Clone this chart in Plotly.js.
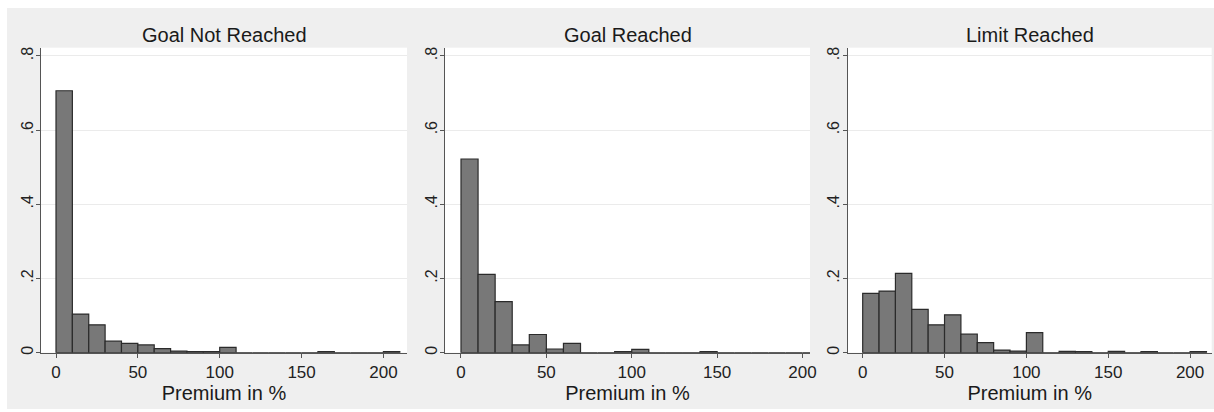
<!DOCTYPE html>
<html>
<head>
<meta charset="utf-8">
<script src="https://cdn.plot.ly/plotly-3.0.1.min.js"></script>
<style>
html, body { margin: 0; padding: 0; background: #ffffff; width: 1214px; height: 412px; overflow: hidden; }
#chart { position: absolute; left: 7px; top: 8px; width: 1207px; height: 401px; }
</style>
</head>
<body>
<div id="chart"></div>
<script>
// Histogram bins (left edges, width 10, in % premium)
const binStart = [0,10,20,30,40,50,60,70,80,90,100,110,120,130,140,150,160,170,180,190,200];
const binWidth = 10;

// Panel titles
const panelTitles = ["Goal Not Reached", "Goal Reached", "Limit Reached"];

// Density (fraction) per bin
const goalNotReached = [0.706,0.104,0.075,0.031,0.025,0.021,0.011,0.0045,0.003,0.003,0.0145,0,0,0,0,0,0.003,0,0,0,0.003];
const goalReached    = [0.522,0.211,0.1375,0.021,0.049,0.010,0.025,0,0,0.003,0.009,0,0,0,0.003,0,0,0,0,0,0];
const limitReached   = [0.160,0.166,0.214,0.117,0.075,0.102,0.050,0.027,0.007,0.0045,0.054,0,0.0036,0.003,0,0.0036,0,0.003,0,0,0.003];

// Axis ticks
const xTickVals = [0, 50, 100, 150, 200];
const xTickText = ["0", "50", "100", "150", "200"];
const yTickVals = [0, 0.2, 0.4, 0.6, 0.8];
const yTickText = ["0", ".2", ".4", ".6", ".8"];
const xAxisLabel = "Premium in %";

const series = [goalNotReached, goalReached, limitReached];

const FONT = "'Liberation Sans', Arial, sans-serif";

const traces = series.map((vals, i) => ({
  type: "bar",
  x: binStart,
  y: vals,
  width: binWidth,
  offset: 0,
  xaxis: i === 0 ? "x" : "x" + (i + 1),
  yaxis: i === 0 ? "y" : "y" + (i + 1),
  marker: { color: "#787878", line: { color: "#2b2b2b", width: 1.2 } },
  hoverinfo: "x+y"
}));

const xDomains = [[0.02817, 0.33140], [0.36288, 0.66529], [0.69652, 0.99809]];
const xRanges = [[-9.16, 214.4], [-9.37, 204.4], [-9.16, 213.2]];
const yDomain = [0.1404, 0.9010];

function xAxis(i) {
  return {
    domain: xDomains[i],
    range: xRanges[i],
    anchor: i === 0 ? "y" : "y" + (i + 1),
    tickvals: xTickVals,
    ticktext: xTickText,
    ticks: "outside",
    ticklen: 4,
    tickwidth: 1,
    tickcolor: "#555555",
    showline: true,
    linecolor: "#555555",
    linewidth: 1,
    showgrid: false,
    zeroline: false,
    tickfont: { family: FONT, size: 17, color: "#222222" },
    title: { text: xAxisLabel, font: { family: FONT, size: 20, color: "#1a1a1a" }, standoff: 0 },
    fixedrange: true
  };
}
function yAxis(i) {
  return {
    domain: yDomain,
    range: [0, 0.822],
    anchor: i === 0 ? "x" : "x" + (i + 1),
    tickvals: yTickVals,
    ticktext: yTickText,
    tickangle: -90,
    ticks: "outside",
    ticklen: 4,
    tickwidth: 1,
    tickcolor: "#555555",
    ticklabelstandoff: -3,
    showline: true,
    linecolor: "#555555",
    linewidth: 1,
    showgrid: true,
    gridcolor: "#ebebeb",
    gridwidth: 1,
    zeroline: false,
    tickfont: { family: FONT, size: 16, color: "#222222" },
    fixedrange: true
  };
}

const layout = {
  width: 1207,
  height: 401,
  margin: { l: 0, r: 0, t: 0, b: 0 },
  paper_bgcolor: "#efefef",
  plot_bgcolor: "#ffffff",
  showlegend: false,
  bargap: 0,
  font: { family: FONT, color: "#222222" },
  xaxis: xAxis(0), xaxis2: xAxis(1), xaxis3: xAxis(2),
  yaxis: yAxis(0), yaxis2: yAxis(1), yaxis3: yAxis(2),
  annotations: panelTitles.map((t, i) => ({
    text: t,
    xref: "paper", yref: "paper",
    x: (xDomains[i][0] + xDomains[i][1]) / 2,
    y: 0.9327,
    xanchor: "center", yanchor: "middle",
    showarrow: false,
    font: { family: FONT, size: 20, color: "#1a1a1a" }
  }))
};

Plotly.newPlot("chart", traces, layout, { displayModeBar: false, staticPlot: true });
</script>
</body>
</html>
